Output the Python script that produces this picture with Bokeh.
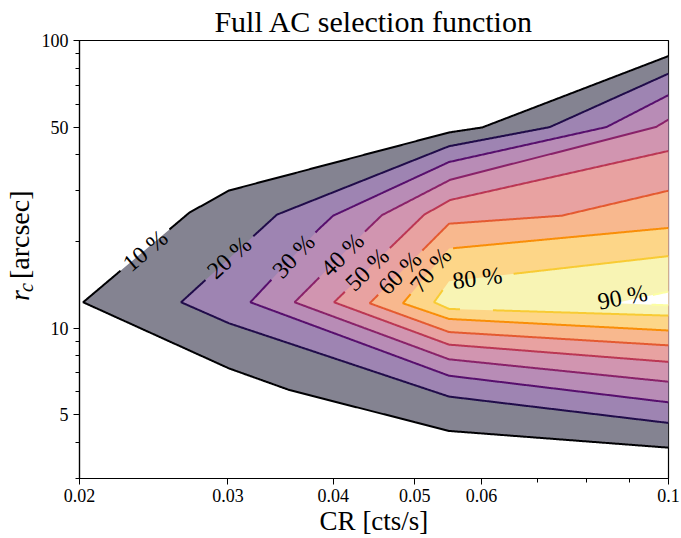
import numpy as np
from bokeh.plotting import figure
from bokeh.layouts import row
from bokeh.models import FixedTicker, Range1d, ColumnDataSource
from bokeh.core.properties import value
from bokeh.palettes import Inferno256
from bokeh.embed import file_html
from bokeh.resources import INLINE

# ---------------- data ----------------
levels = [10, 20, 30, 40, 50, 60, 70, 80, 90]

# each contour: from the upper right edge, to the tip, back to the lower right edge
cr_10 = [0.1, 0.0601, 0.0549, 0.0301, 0.0270, 0.0202, 0.0301, 0.0355, 0.0549, 0.1]
rc_10 = [88.3, 49.85, 47.9, 30.1, 25.2, 12.3, 7.24, 6.09, 4.39, 3.84]
cr_20 = [0.1, 0.0723, 0.0549, 0.0343, 0.0264, 0.0301, 0.0549, 0.1]
rc_20 = [76.7, 50.0, 42.9, 24.8, 12.3, 10.39, 5.78, 4.68]
cr_30 = [0.1, 0.0844, 0.0549, 0.0400, 0.0384, 0.0319, 0.0549, 0.1]
rc_30 = [64.6, 50.0, 37.8, 24.6, 22.0, 12.3, 6.83, 5.52]
cr_40 = [0.1, 0.0966, 0.0551, 0.0457, 0.0438, 0.0360, 0.0549, 0.1]
rc_40 = [53.1, 50.0, 32.8, 24.7, 21.9, 12.3, 7.79, 6.51]
cr_50 = [0.1, 0.0551, 0.0513, 0.0401, 0.0549, 0.1]
rc_50 = [41.3, 27.9, 24.8, 12.3, 8.76, 7.63]
cr_60 = [0.1, 0.0747, 0.0549, 0.0442, 0.0549, 0.1]
rc_60 = [30.05, 24.6, 23.07, 12.2, 9.69, 8.71]
cr_70 = [0.1, 0.0549, 0.0484, 0.0549, 0.1]
rc_70 = [22.3, 18.9, 12.2, 10.76, 9.81]
cr_80 = [0.1, 0.0549, 0.0527, 0.0549, 0.1]
rc_80 = [17.8, 14.56, 12.3, 11.66, 11.05]
cr_90 = [0.1, 0.0863, 0.1]
rc_90 = [13.4, 12.2, 12.0]

label_text = ["10 %", "20 %", "30 %", "40 %", "50 %", "60 %", "70 %", "80 %", "90 %"]
label_cr = [0.02394, 0.0301, 0.0359, 0.0410, 0.04389, 0.0480, 0.0522, 0.0593, 0.0882]
label_rc = [18.6, 17.6, 17.8, 18.0, 16.0, 15.56, 15.9, 14.94, 12.82]
label_angle = [40, 42, 47, 45, 44, 45, 50, 7, 11]

x_ticks = [0.02, 0.03, 0.04, 0.05, 0.06, 0.1]
x_minor = [0.07, 0.08, 0.09]
y_ticks = [5, 10, 50, 100]
y_minor = [3, 4, 6, 7, 8, 9, 20, 30, 40, 60, 70, 80, 90]

contours_cr = [cr_10, cr_20, cr_30, cr_40, cr_50, cr_60, cr_70, cr_80, cr_90]
contours_rc = [rc_10, rc_20, rc_30, rc_40, rc_50, rc_60, rc_70, rc_80, rc_90]

# ---------------- styling ----------------
FONT = "Liberation Serif"
X0, X1, Y0, Y1 = 0.02, 0.1, 3.0, 100.0
W, H = 591, 442  # frame size
TOTAL_H = 538
YLAB_W = 38


def inferno(f):
    return Inferno256[min(255, int(f * 256))]


def blend(hexc, a=0.5):
    r, g, b = (int(hexc[i:i + 2], 16) for i in (1, 3, 5))
    return "#%02x%02x%02x" % tuple(round(a * c + (1 - a) * 255) for c in (r, g, b))


n = len(levels)
line_colors = [inferno(i / (n - 1)) for i in range(n)]
fill_colors = [blend(inferno((i + 0.5) / (n - 1))) for i in range(n - 1)] + ["#ffffff"]

p = figure(width=681 - YLAB_W, height=TOTAL_H, x_axis_type="log", y_axis_type="log",
           x_range=Range1d(X0, X1), y_range=Range1d(Y0, Y1),
           output_backend="svg", toolbar_location=None,
           min_border_left=77 - YLAB_W, min_border_right=681 - YLAB_W - (77 - YLAB_W) - W,
           min_border_top=39, min_border_bottom=TOTAL_H - 39 - H)
p.grid.visible = False
p.background_fill_color = "white"
p.border_fill_color = "white"
p.outline_line_color = "black"
p.outline_line_width = 1.2

# title
p.title.text = "Full AC selection function"
p.title.align = "center"
p.title.text_font = FONT
p.title.text_font_size = "30px"
p.title.text_font_style = "normal"
p.title.text_color = "black"
p.title.standoff = 5

# filled bands (stacked)
for i in range(n):
    p.patch(contours_cr[i], contours_rc[i], fill_color=fill_colors[i], line_color=None)


# contour lines with gaps under labels
def to_s(x, y):
    return (np.log10(np.asarray(x, float) / X0) * W / np.log10(X1 / X0),
            np.log10(np.asarray(y, float) / Y0) * H / np.log10(Y1 / Y0))


def from_s(sx, sy):
    return (X0 * 10 ** (sx * np.log10(X1 / X0) / W), Y0 * 10 ** (sy * np.log10(Y1 / Y0) / H))


def gapped(xs, ys, cx, cy, r):
    sx, sy = to_s(xs, ys)
    csx, csy = to_s(cx, cy)
    px, py = [], []
    for k in range(len(sx) - 1):
        m = max(2, int(np.hypot(sx[k + 1] - sx[k], sy[k + 1] - sy[k])))
        t = np.linspace(0, 1, m, endpoint=False)
        px.extend(sx[k] + t * (sx[k + 1] - sx[k]))
        py.extend(sy[k] + t * (sy[k + 1] - sy[k]))
    px.append(sx[-1]); py.append(sy[-1])
    px = np.array(px); py = np.array(py)
    mask = np.hypot(px - csx, py - csy) < r
    dx, dy = from_s(px, py)
    dx[mask] = np.nan
    dy[mask] = np.nan
    return dx, dy


gap_r = [32, 32, 32, 32, 31, 31, 31, 36, 30]
for i in range(n):
    gx, gy = gapped(contours_cr[i], contours_rc[i], label_cr[i], label_rc[i], gap_r[i])
    p.line(gx, gy, line_color=line_colors[i], line_width=2)

src = ColumnDataSource(dict(x=label_cr, y=label_rc, t=label_text,
                            a=[np.deg2rad(v) for v in label_angle]))
p.text("x", "y", text="t", angle="a", source=src, text_align="center", text_baseline="middle",
       text_font=value(FONT), text_font_size="24px", text_color="black")

# axes
for ax, ticks, minor in ((p.xaxis[0], x_ticks, x_minor), (p.yaxis[0], y_ticks, y_minor)):
    ax.ticker = FixedTicker(ticks=ticks, minor_ticks=minor)
    ax.major_label_overrides = {t: (str(t) if t < 1 else str(int(t))) for t in ticks}
    ax.major_label_text_font = FONT
    ax.major_label_text_font_size = "18px"
    ax.major_label_text_color = "black"
    ax.axis_line_color = "black"
    ax.axis_line_width = 1.2
    ax.major_tick_line_color = "black"
    ax.minor_tick_line_color = "black"
    ax.major_tick_in = 0
    ax.minor_tick_in = 0
    ax.major_tick_out = 6
    ax.minor_tick_out = 4
    ax.major_label_standoff = 5

p.xaxis.axis_label = "CR [cts/s]"
p.xaxis.axis_label_text_font = FONT
p.xaxis.axis_label_text_font_size = "27px"
p.xaxis.axis_label_text_font_style = "normal"
p.xaxis.axis_label_text_color = "black"
p.xaxis.axis_label_standoff = 1
p.xaxis.major_label_standoff = 4

# y-axis label with a subscript, as text in a narrow side panel
q = figure(width=YLAB_W, height=TOTAL_H, x_range=Range1d(0, YLAB_W), y_range=Range1d(0, TOTAL_H),
           output_backend="svg", toolbar_location=None, min_border=0)
q.axis.visible = False
q.grid.visible = False
q.outline_line_color = None
q.background_fill_color = "white"
q.border_fill_color = "white"
ang = np.pi / 2
q.text(x=[19], y=[TOTAL_H - 320], text=["r"], angle=ang, text_align="left",
       text_baseline="middle", text_font=value(FONT), text_font_style="italic",
       text_font_size="28px", text_color="black")
q.text(x=[25], y=[TOTAL_H - 309], text=["c"], angle=ang, text_align="left",
       text_baseline="middle", text_font=value(FONT), text_font_style="italic",
       text_font_size="20px", text_color="black")
q.text(x=[19], y=[TOTAL_H - 293], text=["[arcsec]"], angle=ang, text_align="left",
       text_baseline="middle", text_font=value(FONT), text_font_size="28px",
       text_color="black")

layout = row(q, p, spacing=0)
open("out.html", "w").write(file_html(layout, INLINE))
